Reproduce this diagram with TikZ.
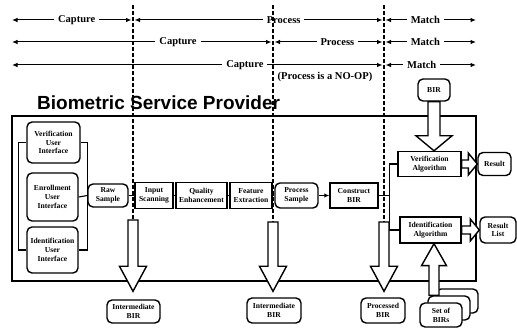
\documentclass[tikz,border=0pt]{standalone}
\usepackage{fontspec}
\setmainfont{Liberation Serif}
\newfontfamily\bspfont{Liberation Sans}
\usetikzlibrary{arrows.meta,calc}

% hollow block arrow: from, to, shaft half width, head half width, head length
\newcommand{\fatarrow}[5]{%
  \path (#2) coordinate (fatip) ($(#2)!#5!(#1)$) coordinate (faneck);
  \draw[fat] ($(#1)!#3!90:(fatip)$) -- ($(faneck)!#3!90:(fatip)$)
    -- ($(faneck)!#4!90:(fatip)$) -- (fatip) -- ($(faneck)!#4!-90:(fatip)$)
    -- ($(faneck)!#3!-90:(fatip)$) -- ($(#1)!#3!-90:(fatip)$) -- cycle;
}

\tikzset{
  box/.style={draw, line width=1.4pt, fill=white, align=center, inner sep=1pt,
    font=\bfseries\fontsize{7.6}{8.8}\selectfont},
  rbox/.style={box, rounded corners=5pt},
  sbox/.style={box},
  sz/.style 2 args={minimum width=#1pt, minimum height=#2pt},
  tl/.style={line width=1pt, {Latex[length=5.5pt,width=4.5pt]}-{Latex[length=5.5pt,width=4.5pt]}},
  lbl/.style={fill=white, inner xsep=4pt, inner ysep=1pt,
    font=\bfseries\fontsize{10.5}{12}\selectfont},
  phase/.style={line width=1.6pt, dash pattern=on 4pt off 2pt},
  fat/.style={draw, fill=white, line width=1.4pt, line join=miter},
  bus/.style={line width=1.1pt},
}

\begin{document}
\begin{tikzpicture}[x=1pt, y=-1pt]
  \useasboundingbox (0,0) rectangle (517,328);

  % phase rows
  \foreach \r/\y in {1/20, 2/42, 3/65} {
    \coordinate (lft\r) at (12,\y);
    \coordinate (cp\r) at (133,\y);
    \coordinate (pm\r) at (273,\y);
    \coordinate (mt\r) at (384,\y);
    \coordinate (rgt\r) at (476,\y);
  }

  \draw[tl, shorten >=1.5pt] (lft1) -- node[lbl, pos=.535] (cap1) {Capture} (cp1);
  \draw[tl, shorten <=1.5pt, shorten >=1.5pt] (cp1) -- node[lbl, pos=.6] (pro1) {Process} (mt1);
  \draw[tl, shorten <=1.5pt] (mt1) -- node[lbl, pos=.45] (mat1) {Match} (rgt1);

  \draw[tl, shorten >=1.5pt] (lft2) -- node[lbl, pos=.636] (cap2) {Capture} (pm2);
  \draw[tl, shorten <=1.5pt, shorten >=1.5pt] (pm2) -- node[lbl, pos=.58] (pro2) {Process} (mt2);
  \draw[tl, shorten <=1.5pt] (mt2) -- node[lbl, pos=.45] (mat2) {Match} (rgt2);

  \draw[tl, shorten >=1.5pt] (lft3) -- node[lbl, pos=.626] (cap3) {Capture} (mt3);
  \draw[tl, shorten <=1.5pt] (mt3) -- node[lbl, pos=.41] (mat3) {Match} (rgt3);

  \node[font=\bfseries\fontsize{10.5}{12}\selectfont, inner sep=1pt] (noop) at (325,77) {(Process is a NO-OP)};

  % service provider
  \node[anchor=base west, inner sep=0pt, font=\bspfont\bfseries\fontsize{19}{20}\selectfont]
    (bsptitle) at (37,110) {Biometric Service Provider};
  \draw[line width=1.1pt] (12,116) rectangle (476,281);

  % phase borders
  \coordinate (cpTop) at (133,5);  \coordinate (cpBot) at (133,220);
  \coordinate (ppTop) at (273,5);  \coordinate (ppBot) at (273,222);
  \coordinate (pmTop) at (384,5);  \coordinate (pmBot) at (384,222);
  \draw[phase] (cpTop) -- (cpBot);
  \draw[phase] (ppTop) -- (ppBot);
  \draw[phase] (pmTop) -- (pmBot);

  % user interfaces
  \node[rbox, sz={53}{41}] (verUI) at (53.5,142.5) {Verification\\User\\Interface};
  \node[rbox, sz={51}{48}] (enrUI) at (52.5,197) {Enrollment\\User\\Interface};
  \node[rbox, sz={51}{46}] (idUI)  at (52.5,250) {Identification\\User\\Interface};

  % capture and process chain
  \node[rbox, sz={40}{23}] (raw)  at (108,195.5) {Raw\\Sample};
  \node[sbox, sz={38}{26}] (scan) at (154,195.5) {Input\\Scanning};
  \node[sbox, sz={51}{26}] (qual) at (201.5,195.5) {Quality\\Enhancement};
  \node[sbox, sz={42}{26}] (feat) at (251,195.5) {Feature\\Extraction};
  \node[rbox, sz={43}{25}] (psam) at (296.5,195.5) {Process\\Sample};
  \node[sbox, sz={48}{25}] (cbir) at (354,195.5) {Construct\\BIR};

  % match
  \node[rbox, sz={32}{22}] (bir)  at (434,90) {BIR};
  \node[sbox, sz={63}{25}] (verA) at (429.5,164) {Verification\\Algorithm};
  \node[sbox, sz={61}{26}] (idA)  at (430.5,230) {Identification\\Algorithm};
  \node[rbox, sz={33}{23}] (res)  at (494.5,164) {Result};
  \node[rbox, sz={36}{26}] (resL) at (498,230) {Result\\List};

  % outputs
  \node[rbox, sz={53}{23}] (ib1) at (133.5,311.5) {Intermediate\\BIR};
  \node[rbox, sz={54}{25}] (ib2) at (274,310.5) {Intermediate\\BIR};
  \node[rbox, sz={44}{25}] (pb)  at (383,310.5) {Processed\\BIR};

  % connectors
  \draw[bus] (verUI.west) -- ++(-8,0) |- (idUI.west);
  \draw[bus] (verUI.east) -- ++(7,0) |- (idUI.east);
  \draw[bus] (enrUI.east) -- (raw.west);
  \draw[bus] (raw.east) -- (scan.west);
  \draw[bus] (scan.east) -- (qual.west);
  \draw[bus] (qual.east) -- (feat.west);
  \draw[bus] (feat.east) -- (psam.west);
  \draw[bus, -{Latex[length=5pt,width=4.5pt]}] (psam.east) -- (cbir.west);
  \draw[bus] (verA.west) -- ++(-8,0) coordinate (busTop) |- (idA.west);
  \draw[bus] (cbir.east) -- (cbir.east -| busTop);

  % block arrows
  \coordinate (ib1tip) at ($(cpBot |- ib1.north)+(0,-8)$);
  \coordinate (ib2tip) at ($(ppBot |- ib2.north)+(0,-6)$);
  \coordinate (pbtip)  at ($(pmBot |- pb.north)+(0,-6)$);
  \fatarrow{cpBot}{ib1tip}{5pt}{13.5pt}{25pt}
  \fatarrow{ppBot}{ib2tip}{5pt}{13.5pt}{25pt}
  \fatarrow{pmBot}{pbtip}{5pt}{13.5pt}{25pt}

  \coordinate (verTip) at (bir.south |- verA.north);
  \fatarrow{bir.south}{verTip}{6pt}{18pt}{15pt}
  \coordinate (resTip) at (verA.east -| res.west);
  \fatarrow{verA.east}{resTip}{4pt}{11pt}{9pt}
  \coordinate (resLTip) at (idA.east -| resL.west);
  \fatarrow{idA.east}{resLTip}{4pt}{11pt}{9pt}

  % set of BIRs
  \node[rbox, sz={42}{24}] (setC) at (457,301) {};
  \node[rbox, sz={42}{24}] (setB) at (449,308) {};
  \coordinate (setArr) at ($(setB.north)+(-15,0)$);
  \coordinate (setTip) at (setArr |- idA.south);
  \fatarrow{setArr}{setTip}{5pt}{12.5pt}{22pt}
  \node[rbox, sz={42}{24}] (setA) at (441,315) {Set of\\BIRs};
\end{tikzpicture}
\end{document}
